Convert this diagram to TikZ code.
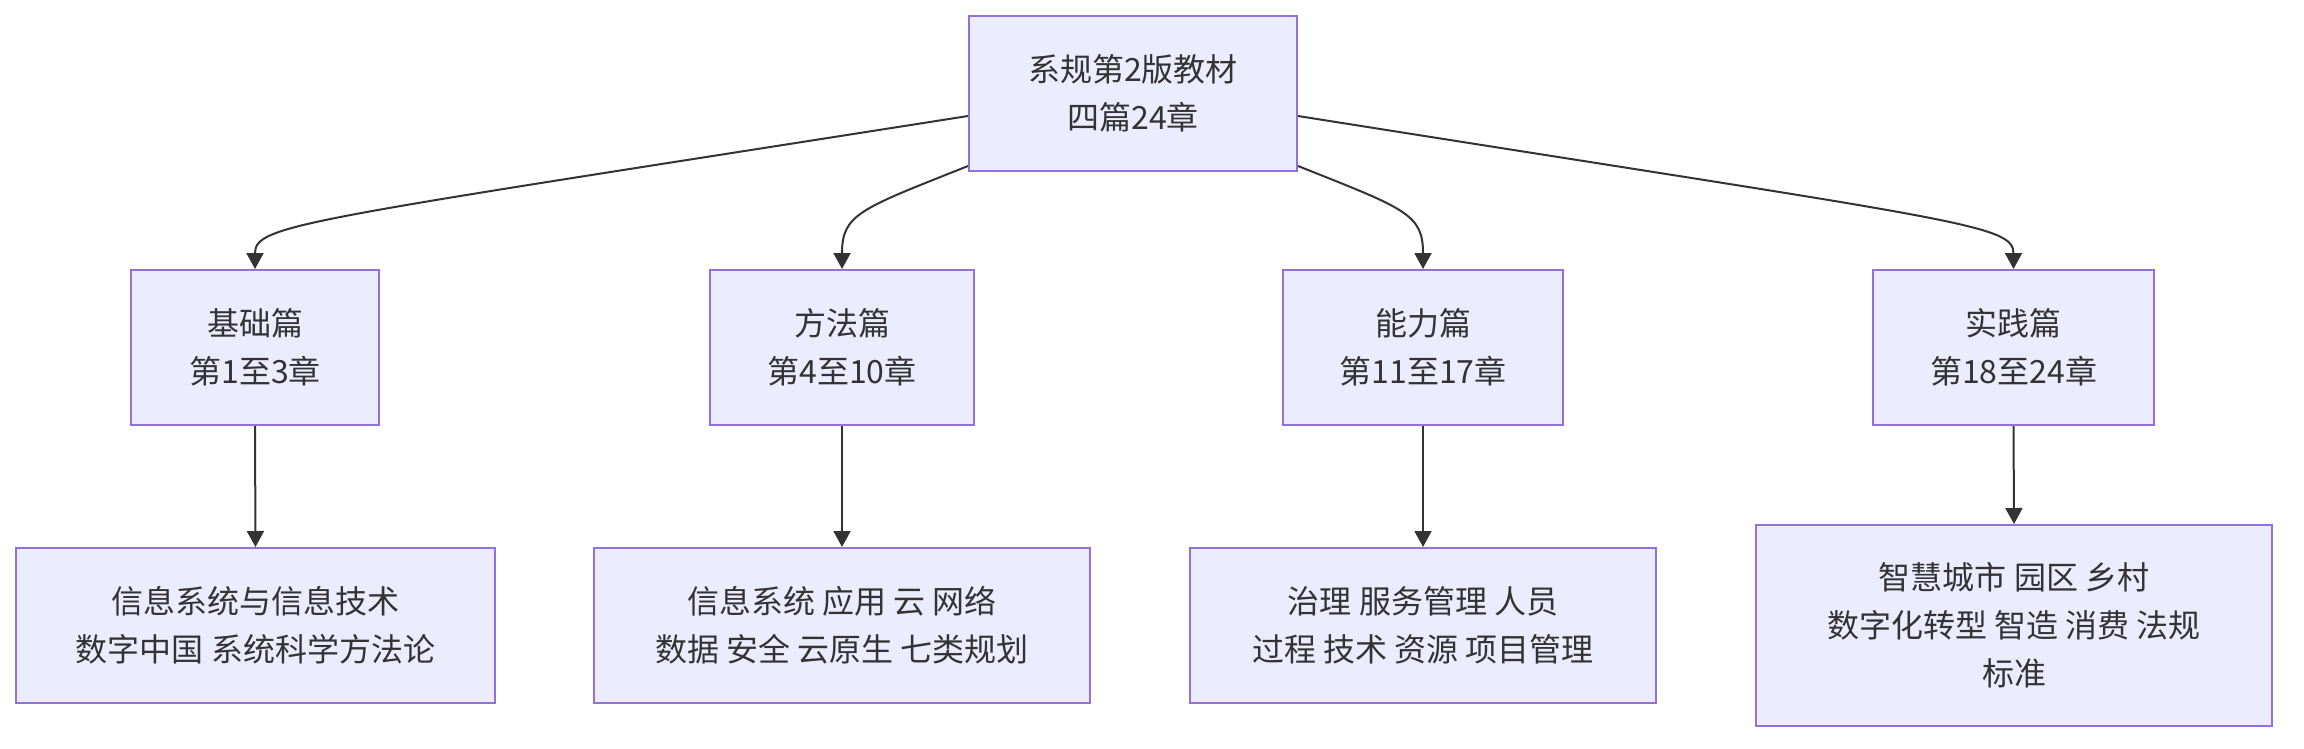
\documentclass[tikz,border=0pt]{standalone}
\usepackage{fontspec}
\newfontfamily\cjk{Noto Sans CJK SC}
\usetikzlibrary{arrows.meta,calc}
\definecolor{nodefill}{HTML}{ECECFF}
\definecolor{nodeline}{HTML}{9370DB}
\definecolor{edgecol}{HTML}{333333}
\definecolor{textcol}{HTML}{333333}
\begin{document}
\begin{tikzpicture}[x=1pt,y=-1pt,
  box/.style={draw=nodeline,fill=nodefill,line width=2pt,inner sep=0pt,align=center,
    text=textcol,font=\cjk\fontsize{32}{48}\selectfont},
  conn/.style={draw=edgecol,line width=2pt,-{Triangle[length=16pt,width=17pt]}}]
\useasboundingbox (0,0) rectangle (2304,748);
\node[box,minimum width=328pt,minimum height=155pt] (top) at (1133,93.5) {系规第2版教材\\四篇24章};
\node[box,minimum width=248pt,minimum height=155pt] (A) at (255,347.5) {基础篇\\第1至3章};
\node[box,minimum width=264pt,minimum height=155pt] (B) at (842,347.5) {方法篇\\第4至10章};
\node[box,minimum width=280pt,minimum height=155pt] (C) at (1423,347.5) {能力篇\\第11至17章};
\node[box,minimum width=281pt,minimum height=155pt] (D) at (2013.5,347.5) {实践篇\\第18至24章};
\node[box,minimum width=479pt,minimum height=155pt] (E1) at (255.5,625.5) {信息系统与信息技术\\数字中国 系统科学方法论};
\node[box,minimum width=496pt,minimum height=155pt] (E2) at (842,625.5) {信息系统 应用 云 网络\\数据 安全 云原生 七类规划};
\node[box,minimum width=466pt,minimum height=155pt] (E3) at (1423,625.5) {治理 服务管理 人员\\过程 技术 资源 项目管理};
\node[box,minimum width=516pt,minimum height=201pt] (E4) at (2014,625.5) {智慧城市 园区 乡村\\数字化转型 智造 消费 法规\\标准};
\draw[conn] ($(top.west)+(0,22.5)$) .. controls ($(A.north)+(45,-48)$) and ($(A.north)+(0,-45)$) .. (A.north);
\draw[conn] ($(top.west)+(0,72.5)$) .. controls ($(B.north)+(18,-60)$) and ($(B.north)+(0,-55)$) .. (B.north);
\draw[conn] ($(top.east)+(0,72.5)$) .. controls ($(C.north)+(-17,-60)$) and ($(C.north)+(0,-55)$) .. (C.north);
\draw[conn] ($(top.east)+(0,22.5)$) .. controls ($(D.north)+(-53,-48)$) and ($(D.north)+(0,-45)$) .. (D.north);
\draw[conn] (A.south) -- (E1.north);
\draw[conn] (B.south) -- (E2.north);
\draw[conn] (C.south) -- (E3.north);
\draw[conn] (D.south) -- (E4.north);
\end{tikzpicture}
\end{document}
